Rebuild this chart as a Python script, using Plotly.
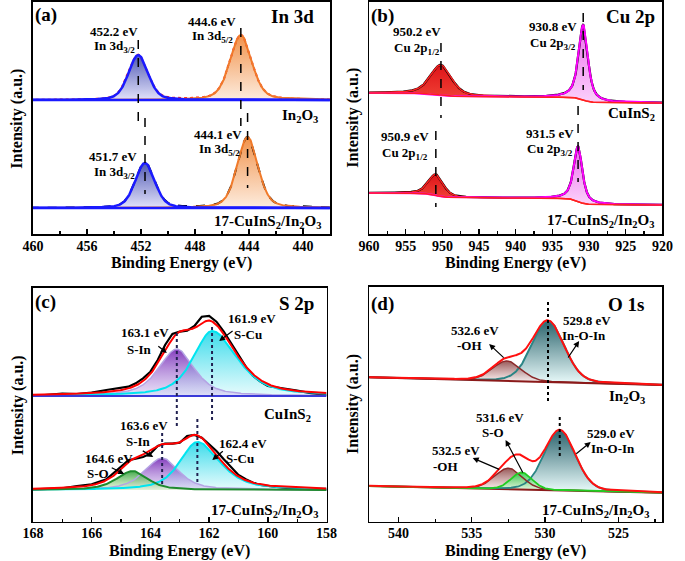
import numpy as np
import plotly.graph_objects as go

W, H = 685, 561
FONT = "Liberation Serif"

# ---------------- data ----------------
# (a) In 3d : peak centre (eV), height (a.u.), FWHM (eV)
in3d_In2O3_center = [452.2, 444.6]          # In 3d3/2, In 3d5/2
in3d_In2O3_height = [45, 65]
in3d_In2O3_fwhm = [1.7, 1.9]
in3d_comp_center = [451.7, 444.1]
in3d_comp_height = [45, 71]
in3d_comp_fwhm = [1.7, 1.8]
in3d_eta = [0.3, 0.35]
in3d_baseline = [134.3, 26.3]               # In2O3, 17-CuInS2/In2O3

# (b) Cu 2p
cu2p_CuInS2_center = [950.2, 930.8]         # Cu 2p1/2, Cu 2p3/2
cu2p_CuInS2_height = [30, 75]
cu2p_CuInS2_fwhm = [3.4, 1.5]
cu2p_comp_center = [950.9, 931.5]
cu2p_comp_height = [21, 55]
cu2p_comp_fwhm = [2.4, 1.4]
cu2p_eta = [0.5, 0.7]
cu2p_bg_920 = [131.3, 29.3]                 # background level at 920 eV
cu2p_CuInS2_steps = [4, 6]                  # Shirley step under each peak
cu2p_comp_steps = [5, 7]

# (c) S 2p
s2p_CuInS2_center = [163.1, 161.9]          # S-In, S-Cu
s2p_CuInS2_height = [47, 65]
s2p_CuInS2_fwhm_hi = [1.45, 1.5]
s2p_CuInS2_fwhm_lo = [1.4, 2.0]
s2p_comp_center = [164.6, 163.6, 162.4]     # S-O, S-In, S-Cu
s2p_comp_height = [19, 32, 48]
s2p_comp_fwhm_hi = [1.3, 1.4, 1.4]
s2p_comp_fwhm_lo = [1.2, 1.35, 1.8]
s2p_eta = 0.6
s2p_baseline = [125.7, 31.7]
s2p_raw_energy = [168.0, 167.5, 167.0, 166.5, 166.0, 165.5, 165.0, 164.75, 164.5,
                  164.25, 164.0, 163.75, 163.5, 163.25, 163.0, 162.75, 162.5, 162.25,
                  162.0, 161.75, 161.5, 161.25, 161.0, 160.75, 160.5, 160.25, 160.0,
                  159.5, 159.0, 158.5, 158.0]
s2p_raw_CuInS2 = [125.7, 127.0, 128.0, 127.7, 129.0, 131.7, 134.4, 135.0, 138.4,
                  143.4, 150.0, 161.7, 176.7, 187.7, 190.0, 191.0, 195.7, 205.0,
                  205.7, 200.0, 190.0, 178.4, 166.7, 155.0, 145.7, 140.0, 135.7,
                  133.0, 131.0, 128.4, 126.7]
s2p_raw_comp = [32.4, 33.0, 33.4, 35.7, 37.4, 42.4, 54.7, 61.4, 63.0,
                64.7, 68.0, 75.7, 78.0, 78.0, 79.0, 85.7, 86.7, 84.0,
                77.4, 70.7, 62.4, 54.0, 46.7, 42.4, 39.0, 36.7, 35.7,
                34.0, 33.0, 32.4, 32.0]

# (d) O 1s
o1s_In2O3_center = [532.6, 529.8]           # -OH, In-O-In
o1s_In2O3_height = [20, 61]
o1s_In2O3_fwhm = [2.3, 2.6]
o1s_comp_center = [532.5, 531.6, 529.0]     # -OH, S-O, In-O-In
o1s_comp_height = [21, 17, 60]
o1s_comp_fwhm = [2.2, 1.7, 2.5]
o1s_eta = 0.15
o1s_bg_In2O3 = [144.4, 136.7]               # background at 542 eV and 522 eV
o1s_bg_comp = [35.7, 29.0]

# ---------------- helpers ----------------
def pv(E, c, h, w_hi, w_lo, eta):
    w = np.where(E >= c, w_hi, w_lo)
    u = (2 * (E - c) / w) ** 2
    return h * (eta / (1 + u) + (1 - eta) * np.exp(-np.log(2) * u))


PANELS = {
    "a": dict(n="", left=22.7, right=329.5, top=2, bottom=234.3, rng=[460, 438], dtick=4, minor=2),
    "b": dict(n="2", left=370, right=673, top=2, bottom=234.3, rng=[960, 920], dtick=5, minor=2.5),
    "c": dict(n="3", left=22.7, right=326, top=288, bottom=521.7, rng=[168, 158], dtick=2, minor=1),
    "d": dict(n="4", left=370, right=673, top=287, bottom=521.7, rng=[542, 522], dtick=5, minor=2.5),
}

fig = go.Figure()


def axes(p):
    n = PANELS[p]["n"]
    return dict(xaxis="x" + n, yaxis="y" + n)


def add_fill(p, E, bg, pk, c_light, c_dark, top):
    fig.add_trace(go.Scatter(
        x=np.concatenate([E, E[::-1]]), y=np.concatenate([bg + pk, bg[::-1]]),
        mode="lines", line=dict(width=0), fill="toself",
        fillgradient=dict(type="vertical", colorscale=[[0, c_light], [1, c_dark]],
                          start=float(top[0]), stop=float(top[1])),
        hoverinfo="skip", showlegend=False, **axes(p)))


def add_line(p, E, y, color, width=2, dash="solid"):
    fig.add_trace(go.Scatter(x=E, y=y, mode="lines",
                             line=dict(color=color, width=width, dash=dash),
                             hoverinfo="skip", showlegend=False, **axes(p)))


# ---------- panel (a) ----------
Ea = np.linspace(438, 460, 700)
for k, (cen, hgt, fw, raw_style) in enumerate([
        (in3d_In2O3_center, in3d_In2O3_height, in3d_In2O3_fwhm, ("#ff2020", "dot")),
        (in3d_comp_center, in3d_comp_height, in3d_comp_fwhm, ("black", "dash"))]):
    bg = np.full_like(Ea, in3d_baseline[k])
    pks = [pv(Ea, cen[i], hgt[i], fw[i], fw[i], in3d_eta[i]) for i in range(2)]
    add_fill("a", Ea, bg, pks[0], "rgba(222,222,250,0.9)", "rgba(70,80,175,0.95)",
             (in3d_baseline[k], in3d_baseline[k] + hgt[0]))
    add_fill("a", Ea, bg, pks[1], "rgba(253,234,218,0.9)", "rgba(240,140,65,0.95)",
             (in3d_baseline[k], in3d_baseline[k] + hgt[1]))
    add_line("a", Ea, bg + pks[0] + pks[1], raw_style[0], 2, raw_style[1])
    add_line("a", Ea, bg + pks[1], "#f07a2a", 2)
    add_line("a", Ea, bg, "#1a1aff", 2.5)
    add_line("a", Ea, bg + pks[0], "#1a1aff", 2.5)

# ---------- panel (b) ----------
Eb = np.linspace(920, 960, 800)
for k, (cen, hgt, fw, steps) in enumerate([
        (cu2p_CuInS2_center, cu2p_CuInS2_height, cu2p_CuInS2_fwhm, cu2p_CuInS2_steps),
        (cu2p_comp_center, cu2p_comp_height, cu2p_comp_fwhm, cu2p_comp_steps)]):
    pks = [pv(Eb, cen[i], hgt[i], fw[i], fw[i], cu2p_eta[i]) for i in range(2)]
    bg = cu2p_bg_920[k] + sum(steps[i] * np.cumsum(pks[i]) / np.sum(pks[i]) for i in range(2))
    b0 = float(np.interp(cen[0], Eb, bg))
    b1 = float(np.interp(cen[1], Eb, bg))
    add_fill("b", Eb, bg, pks[0], "rgb(238,60,50)", "rgb(222,20,25)", (b0, b0 + hgt[0]))
    add_fill("b", Eb, bg, pks[1], "rgb(250,205,250)", "rgb(238,110,238)", (b1, b1 + hgt[1]))
    add_line("b", Eb, bg + pks[0] + pks[1], "black", 2.2)
    add_line("b", Eb, bg + pks[0], "#ff2020", 1.5)
    add_line("b", Eb, bg + pks[1], "#ff00ff", 2)
    add_line("b", Eb, bg, "#ff2020", 1.5)

# ---------- panel (c) ----------
Ec = np.linspace(158, 168, 600)
# upper: CuInS2
bgc = np.full_like(Ec, s2p_baseline[0])
c_cols = [("rgba(215,200,242,0.55)", "rgba(115,35,180,0.88)", "#b4a4e4"),
          ("rgba(222,250,252,0.75)", "rgba(35,215,232,0.9)", "#00e5f0")]
pks = [pv(Ec, s2p_CuInS2_center[i], s2p_CuInS2_height[i], s2p_CuInS2_fwhm_hi[i],
          s2p_CuInS2_fwhm_lo[i], s2p_eta) for i in range(2)]
for i in [1, 0]:
    add_fill("c", Ec, bgc, pks[i], c_cols[i][0], c_cols[i][1],
             (s2p_baseline[0], s2p_baseline[0] + s2p_CuInS2_height[i]))
add_line("c", s2p_raw_energy, s2p_raw_CuInS2, "black", 2.2)
add_line("c", Ec, bgc + pks[0], c_cols[0][2], 1.5)
add_line("c", Ec, bgc + pks[1], c_cols[1][2], 2)
add_line("c", Ec, bgc, "#3a3ad8", 2)
add_line("c", Ec, bgc + pks[0] + pks[1], "#ff0000", 2)
# lower: composite
bgc2 = np.full_like(Ec, s2p_baseline[1])
c_cols2 = [("rgba(228,246,205,0.7)", "rgba(50,160,60,0.9)", "#1e8a2e"),
           ("rgba(215,200,242,0.55)", "rgba(115,35,180,0.88)", "#b4a4e4"),
           ("rgba(222,250,252,0.75)", "rgba(35,215,232,0.9)", "#00e5f0")]
pks2 = [pv(Ec, s2p_comp_center[i], s2p_comp_height[i], s2p_comp_fwhm_hi[i],
           s2p_comp_fwhm_lo[i], s2p_eta) for i in range(3)]
for i in [2, 1, 0]:
    add_fill("c", Ec, bgc2, pks2[i], c_cols2[i][0], c_cols2[i][1],
             (s2p_baseline[1], s2p_baseline[1] + s2p_comp_height[i]))
add_line("c", s2p_raw_energy, s2p_raw_comp, "black", 2.2)
add_line("c", Ec, bgc2 + pks2[1], c_cols2[1][2], 1.5)
add_line("c", Ec, bgc2 + pks2[2], c_cols2[2][2], 2)
add_line("c", Ec, bgc2 + pks2[0], c_cols2[0][2], 2)
add_line("c", Ec, bgc2 + pks2[0] + pks2[1] + pks2[2], "#ff0000", 2)

# ---------- panel (d) ----------
Ed = np.linspace(522, 542, 600)
bgd = o1s_bg_In2O3[0] + (o1s_bg_In2O3[1] - o1s_bg_In2O3[0]) * (542 - Ed) / 20
pk_oh = pv(Ed, o1s_In2O3_center[0], o1s_In2O3_height[0], o1s_In2O3_fwhm[0], o1s_In2O3_fwhm[0], o1s_eta)
pk_io = pv(Ed, o1s_In2O3_center[1], o1s_In2O3_height[1], o1s_In2O3_fwhm[1], o1s_In2O3_fwhm[1], o1s_eta)
b_io = float(np.interp(o1s_In2O3_center[1], Ed, bgd))
b_oh = float(np.interp(o1s_In2O3_center[0], Ed, bgd))
add_fill("d", Ed, bgd, pk_io, "rgba(226,246,246,0.9)", "rgba(30,90,100,0.95)", (b_io, b_io + o1s_In2O3_height[1]))
add_fill("d", Ed, bgd, pk_oh, "rgba(246,228,228,0.75)", "rgba(140,70,70,0.9)", (b_oh, b_oh + o1s_In2O3_height[0]))
add_line("d", Ed, bgd + pk_io, "#2a8585", 2)
add_line("d", Ed, bgd + pk_oh, "#8b2a2a", 1.5)
add_line("d", Ed, bgd, "#8b1a1a", 2)
add_line("d", Ed, bgd + pk_oh + pk_io, "#ff1010", 2)

bgd2 = o1s_bg_comp[0] + (o1s_bg_comp[1] - o1s_bg_comp[0]) * (542 - Ed) / 20
pk2 = [pv(Ed, o1s_comp_center[i], o1s_comp_height[i], o1s_comp_fwhm[i], o1s_comp_fwhm[i], o1s_eta)
       for i in range(3)]
d_cols = [("rgba(246,228,228,0.75)", "rgba(140,70,70,0.9)", "#8b2a2a"),
          ("rgba(214,250,214,0.75)", "rgba(40,205,70,0.9)", "#22cc22"),
          ("rgba(226,246,246,0.9)", "rgba(30,90,100,0.95)", "#2a8585")]
for i in [2, 0, 1]:
    bb = float(np.interp(o1s_comp_center[i], Ed, bgd2))
    add_fill("d", Ed, bgd2, pk2[i], d_cols[i][0], d_cols[i][1], (bb, bb + o1s_comp_height[i]))
add_line("d", Ed, bgd2, "#8b1a1a", 2)
for i in [2, 0, 1]:
    add_line("d", Ed, bgd2 + pk2[i], d_cols[i][2], 1.8 if i != 0 else 1.5)
add_line("d", Ed, bgd2 + pk2[0] + pk2[1] + pk2[2], "#ff1010", 2)

# ---------------- axes ----------------
layout = {}
for p, d in PANELS.items():
    n = d["n"]
    xd = [d["left"] / W, d["right"] / W]
    yd = [1 - d["bottom"] / H, 1 - d["top"] / H]
    layout["xaxis" + n] = dict(
        domain=xd, anchor="y" + n, range=d["rng"], showline=True, mirror=True,
        linecolor="black", linewidth=1.6, ticks="inside", ticklen=5, tickwidth=1.4,
        tickcolor="black", tick0=0, dtick=d["dtick"], showgrid=False, zeroline=False,
        ticklabelstandoff=-2,
        minor=dict(ticks="inside", ticklen=3, tickwidth=1.2, dtick=d["minor"], tick0=0,
                   tickcolor="black", showgrid=False),
        tickfont=dict(family=FONT, size=14, color="black", weight="bold"))
    layout["yaxis" + n] = dict(
        domain=yd, anchor="x" + n, range=[0, d["bottom"] - d["top"]], showline=True,
        mirror=True, linecolor="black", linewidth=1.6, ticks="", showticklabels=False,
        showgrid=False, zeroline=False, fixedrange=True)

# ---------------- text ----------------
ann = []


def T(text, x, y, size=13, xanchor="center", angle=0):
    ann.append(dict(text=text, x=x / W, y=1 - y / H, xref="paper", yref="paper",
                    showarrow=False, xanchor=xanchor, yanchor="middle", textangle=angle,
                    font=dict(family=FONT, size=size, color="black", weight="bold")))


def A(tx, ty, hx, hy):
    ann.append(dict(text="", x=hx / W, y=1 - hy / H, xref="paper", yref="paper",
                    ax=tx - hx, ay=ty - hy, showarrow=True, arrowhead=2, arrowsize=1,
                    arrowwidth=1.2, arrowcolor="black"))


for p, d in PANELS.items():
    cx = (d["left"] + d["right"]) / 2
    T("Binding Energy (eV)", cx, d["bottom"] + 29, 16)
    T("Intensity (a.u.)", d["left"] - 16, (d["top"] + d["bottom"]) / 2, 16, angle=-90)

# (a)
T("(a)", 36, 15, 19); T("In 3d", 315, 17, 19, "right")
T("452.2 eV", 106, 32); T("In 3d<sub>3/2</sub>", 107, 47)
T("444.6 eV", 208, 22); T("In 3d<sub>5/2</sub>", 208, 37)
T("451.7 eV", 105, 157); T("In 3d<sub>3/2</sub>", 107, 172)
T("444.1 eV", 214, 135); T("In 3d<sub>5/2</sub>", 215, 150)
T("In<sub>2</sub>O<sub>3</sub>", 319, 116, 15, "right")
T("17-CuInS<sub>2</sub>/In<sub>2</sub>O<sub>3</sub>", 322, 222, 15, "right")
# (b)
T("(b)", 384, 16, 19); T("Cu 2p", 667, 16, 19, "right")
T("950.2 eV", 419, 32); T("Cu 2p<sub>1/2</sub>", 419, 48)
T("930.8 eV", 560, 26); T("Cu 2p<sub>3/2</sub>", 560, 43)
T("950.9 eV", 407, 137); T("Cu 2p<sub>1/2</sub>", 407, 153)
T("931.5 eV", 557, 133); T("Cu 2p<sub>3/2</sub>", 557, 150)
T("CuInS<sub>2</sub>", 667, 114, 15, "right")
T("17-CuInS<sub>2</sub>/In<sub>2</sub>O<sub>3</sub>", 666, 221, 15, "right")
# (c)
T("(c)", 36, 302, 19); T("S 2p", 315, 303, 19, "right")
T("163.1 eV", 138, 332); T("S-In", 133, 349)
T("161.9 eV", 249, 318); T("S-Cu", 245, 334)
T("163.6 eV", 137, 425); T("S-In", 132, 441)
T("164.6 eV", 101, 458); T("S-O", 90, 473)
T("162.4 eV", 240, 443); T("S-Cu", 237, 458)
T("CuInS<sub>2</sub>", 312, 415, 15, "right")
T("17-CuInS<sub>2</sub>/In<sub>2</sub>O<sub>3</sub>", 319, 511, 15, "right")
A(151, 345, 161, 353); A(230, 330, 215, 341)
A(135, 450, 147, 457); A(103, 467, 117, 474); A(220, 450, 208, 460)
# (d)
T("(d)", 384, 304, 19); T("O 1s", 656, 304, 19, "right")
T("532.6 eV", 479, 330); T("-OH", 474, 345)
T("529.8 eV", 595, 320); T("In-O-In", 592, 335)
T("531.6 eV", 505, 417); T("S-O", 498, 432)
T("532.5 eV", 460, 450); T("-OH", 449, 466)
T("529.0 eV", 620, 433); T("In-O-In", 622, 448)
T("In<sub>2</sub>O<sub>3</sub>", 657, 397, 15, "right")
T("17-CuInS<sub>2</sub>/In<sub>2</sub>O<sub>3</sub>", 661, 511, 15, "right")
A(510, 359, 494, 344); A(575, 359, 587, 341)
A(529, 474, 511, 440); A(505, 470, 477, 458); A(583, 455, 599, 442)

# ---------------- vertical marker lines ----------------
shapes = []


def V(p, e, y0, y1, dash, color="black", width=1.5):
    n = PANELS[p]["n"]
    shapes.append(dict(type="line", xref="x" + n, yref="paper", x0=e, x1=e,
                       y0=1 - y0 / H, y1=1 - y1 / H, line=dict(color=color, width=width, dash=dash)))


V("a", in3d_In2O3_center[0], 40, 127, "dash"); V("a", in3d_In2O3_center[1], 28, 126, "dash")
V("a", in3d_comp_center[0], 118, 194, "dash"); V("a", in3d_comp_center[1], 113, 188, "dash")
V("b", cu2p_CuInS2_center[0], 43, 118, "dash"); V("b", cu2p_CuInS2_center[1], 13, 90, "dash")
V("b", cu2p_comp_center[0], 131, 207, "dash"); V("b", cu2p_comp_center[1], 106, 182, "dash")
V("c", s2p_CuInS2_center[0], 333, 429, "dot", "#202050", 2)
V("c", s2p_CuInS2_center[1], 327, 421, "dot", "#202050", 2)
V("c", s2p_comp_center[1], 433, 485, "dot", "#202050", 2)
V("c", s2p_comp_center[2], 419, 483, "dot", "#202050", 2)
V("d", o1s_In2O3_center[1], 302, 403, "dot", "black", 2)
V("d", o1s_comp_center[2], 417, 458, "dot", "black", 2)

fig.update_layout(width=W, height=H, margin=dict(l=0, r=0, t=0, b=0),
                  paper_bgcolor="white", plot_bgcolor="white",
                  annotations=ann, shapes=shapes, showlegend=False, **layout)
fig.write_html("out.html", config={"displayModeBar": False, "staticPlot": True},
               post_script="document.body.style.margin='0';document.body.style.overflow='hidden';")
